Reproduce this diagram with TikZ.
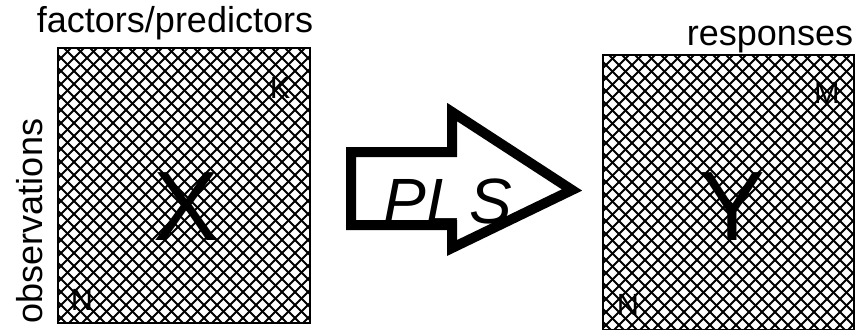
\documentclass[tikz,border=0pt]{standalone}
\usepackage{fontspec}
\setmainfont{Liberation Sans}
\usetikzlibrary{positioning}

\begin{document}
\begin{tikzpicture}[x=0.75pt,y=-0.75pt,
  frame/.style={draw=black,line width=2.2pt},
  hatch/.style={line width=1.4pt,black},
  lbl/.style={font=\fontsize{27}{30}\selectfont,inner sep=0pt},
  idx/.style={font=\fontsize{23}{25}\selectfont,inner sep=0pt},
  big/.style={font=\fontsize{74}{80}\selectfont,inner sep=0pt},
  plsarrow/.style={draw=black,line width=7.5pt,line join=miter}
]
\useasboundingbox (0,0) rectangle (856,329);

% matrix X
\coordinate (Xnw) at (58,48);
\coordinate (Xse) at (310,323);
\begin{scope}
  \clip (Xnw) rectangle (Xse);
  \foreach \d in {0,13,...,572} {
    \draw[hatch] (-222+\d,48) -- ++(290,290);
    \draw[hatch] (58+\d,48) -- ++(-290,290);
  }
\end{scope}
\draw[frame] (Xnw) rectangle (Xse);

% matrix Y
\coordinate (Ynw) at (603,55);
\coordinate (Yse) at (854,330);
\begin{scope}
  \clip (Ynw) rectangle (Yse);
  \foreach \d in {0,13,...,572} {
    \draw[hatch] (323+\d,55) -- ++(290,290);
    \draw[hatch] (603+\d,55) -- ++(-290,290);
  }
\end{scope}
\draw[frame] (Ynw) rectangle (Yse);

% labels
\node[lbl,anchor=base] (fac) at (175,32) {factors/predictors};
\node[lbl,anchor=base] (resp) at (770,45) {responses};
\node[lbl,anchor=base,rotate=90] (obs) at (42,221) {observations};

\node[big] (X) at (186,207) {X};
\node[big] (Y) at (732,207) {Y};
\node[idx] (K) at (280,88) {K};
\node[idx] (NX) at (82,300) {N};
\node[idx] (M) at (827,93) {M};
\node[idx] (NY) at (628,305) {N};

% PLS arrow
\draw[plsarrow] (351,152) -- (452,152) -- (452,112) -- (572,190)
  -- (452,248) -- (452,225) -- (351,225) -- cycle;
\node[font=\fontsize{48}{50}\selectfont\itshape,inner sep=0pt] (pls) at (448,201) {PL\kern6pt S};
\end{tikzpicture}
\end{document}
